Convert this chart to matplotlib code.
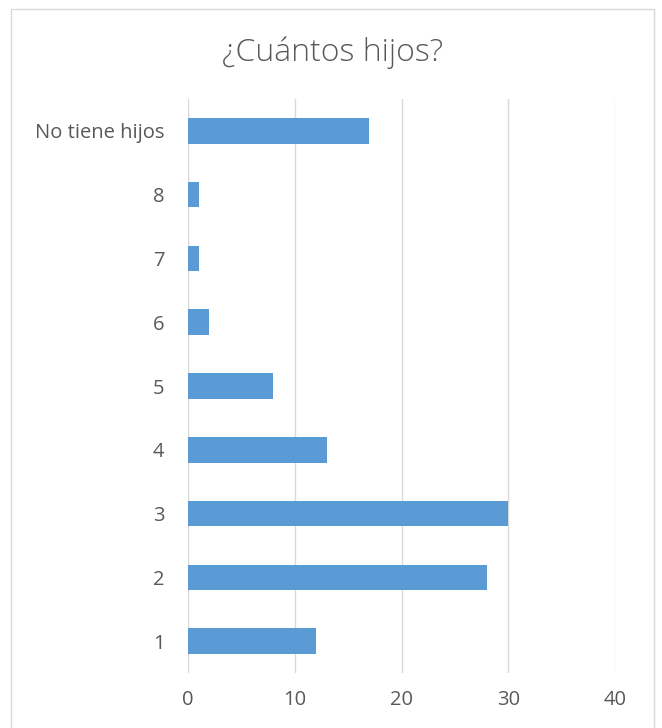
import numpy as np
import matplotlib
matplotlib.use('Agg')
import matplotlib.pyplot as plt
from matplotlib.patches import Rectangle

categorias = ['1', '2', '3', '4', '5', '6', '7', '8', 'No tiene hijos']
valores = [12, 28, 30, 13, 8, 2, 1, 1, 17]
xticks = [0, 10, 20, 30, 40]

barcol = '#5b9bd5'
gridcol = '#d9d9d9'
textcol = '#595959'

plt.rcParams['font.family'] = ['Open Sans', 'DejaVu Sans']

W, H = 662, 728
fig = plt.figure(figsize=(W/100, H/100), dpi=100)
ax = fig.add_axes([188/W, 1-673/H, (615-188)/W, (673-99)/H])

y = np.arange(len(categorias))
ax.barh(y, valores, height=0.4, color=barcol, zorder=3)
ax.set_ylim(-0.5, len(categorias)-0.5)
ax.set_xlim(0, 40)
ax.set_xticks(xticks)
ax.set_yticks(y)
ax.set_yticklabels(categorias)
ax.grid(axis='x', color=gridcol, lw=1, zorder=0)
for s in ax.spines.values():
    s.set_visible(False)
ax.tick_params(length=0, labelsize=14.5, labelcolor=textcol)
ax.tick_params(axis='y', pad=17)
ax.tick_params(axis='x', pad=12)

fig.text(333/W, 1-53/H, '¿Cuántos hijos?', ha='center', va='center',
         fontsize=23, color=textcol, fontweight='light')

fig.patches.append(Rectangle((11/W, -0.02), (654-11)/W, 1-9/H+0.02,
                             transform=fig.transFigure, fill=False,
                             edgecolor=gridcol, lw=1))

fig.savefig('out.png', dpi=100)
